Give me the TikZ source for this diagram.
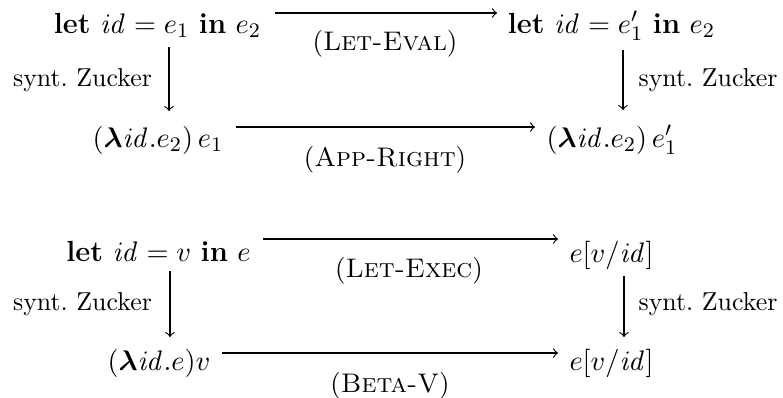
\documentclass[tikz,border=0pt]{standalone}
\usepackage{bm}
\begin{document}
\begin{tikzpicture}[x=0.3867pt,y=-0.3867pt,
  term/.style={anchor=base,inner sep=0pt,font=\fontsize{11.25}{13.5}\selectfont},
  rule/.style={anchor=base,inner sep=0pt,font=\fontsize{10.4}{12}\selectfont},
  side/.style={anchor=base,inner sep=0pt,font=\fontsize{10}{12}\selectfont},
  arr/.style={->,line width=0.45pt}]
\useasboundingbox (0,0) rectangle (783,397);
% top diagram
\node[term] (tl) at (157.5,33) {$\textbf{let}\ \mathit{id} = e_1\ \textbf{in}\ e_2$};
\node[term] (tr) at (611.5,33) {$\textbf{let}\ \mathit{id} = e_1'\ \textbf{in}\ e_2$};
\node[term] (ml) at (158,147) {$(\bm{\lambda}\mathit{id}.e_2)\,e_1$};
\node[term] (mr) at (612,147) {$(\bm{\lambda}\mathit{id}.e_2)\,e_1'$};
\node[rule] (r1) at (385,50) {(\textsc{Let-Eval})};
\node[rule] (r2) at (385,166) {(\textsc{App-Right})};
\node[side] (s1) at (82.5,86) {synt.\ Zucker};
\node[side] (s2) at (708,86) {synt.\ Zucker};
\draw[arr] (275,13) -- (497,13);
\draw[arr] (236,127) -- (535,127);
\draw[arr] (169,47) -- (169,111);
\draw[arr] (623,50) -- (623,110);
% bottom diagram
\node[term] (bl1) at (158.5,261) {$\textbf{let}\ \mathit{id} = v\ \textbf{in}\ e$};
\node[term] (br1) at (611.5,262) {$e[v/\mathit{id}]$};
\node[term] (bl2) at (159,370) {$(\bm{\lambda}\mathit{id}.e)v$};
\node[term] (br2) at (611.5,370) {$e[v/\mathit{id}]$};
\node[rule] (r3) at (409,277) {(\textsc{Let-Exec})};
\node[rule] (r4) at (390,392) {(\textsc{Beta-V})};
\node[side] (s3) at (82.5,310) {synt.\ Zucker};
\node[side] (s4) at (708,310) {synt.\ Zucker};
\draw[arr] (263,239) -- (558,239);
\draw[arr] (222,353) -- (558,353);
\draw[arr] (170,271) -- (170,337);
\draw[arr] (624,276) -- (624,337);
\end{tikzpicture}
\end{document}
